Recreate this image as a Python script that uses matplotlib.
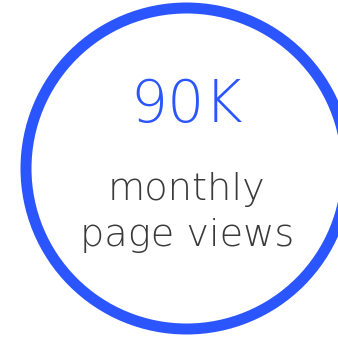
import matplotlib
matplotlib.use("Agg")
from matplotlib import pyplot as plt
from matplotlib.patches import Circle

# figure content
value_text = "90K"
caption_lines = ["monthly", "page views"]
ring_color = "#2b55ff"
text_color = "#3a3a3a"

W, H = 338, 338

fig = plt.figure(figsize=(W / 100, H / 100), dpi=100)
ax = fig.add_axes([0, 0, 1, 1])
ax.set_xlim(0, W)
ax.set_ylim(H, 0)
ax.set_aspect("equal")
ax.axis("off")

# ring, partly cut on the right side
ring = Circle((186.5, 168.5), 160.5, fill=False, edgecolor=ring_color,
              linewidth=11 * 0.72)
ax.add_patch(ring)

ax.text(187, 122, value_text, color=ring_color, fontsize=42,
        fontfamily="DejaVu Sans", fontweight="ultralight", ha="center", va="baseline")

for line, y in zip(caption_lines, [200, 246]):
    ax.text(187, y, line, color=text_color, fontsize=27.5,
            fontfamily="DejaVu Sans", fontweight="ultralight", ha="center", va="baseline")

fig.savefig("out.png", dpi=100)
